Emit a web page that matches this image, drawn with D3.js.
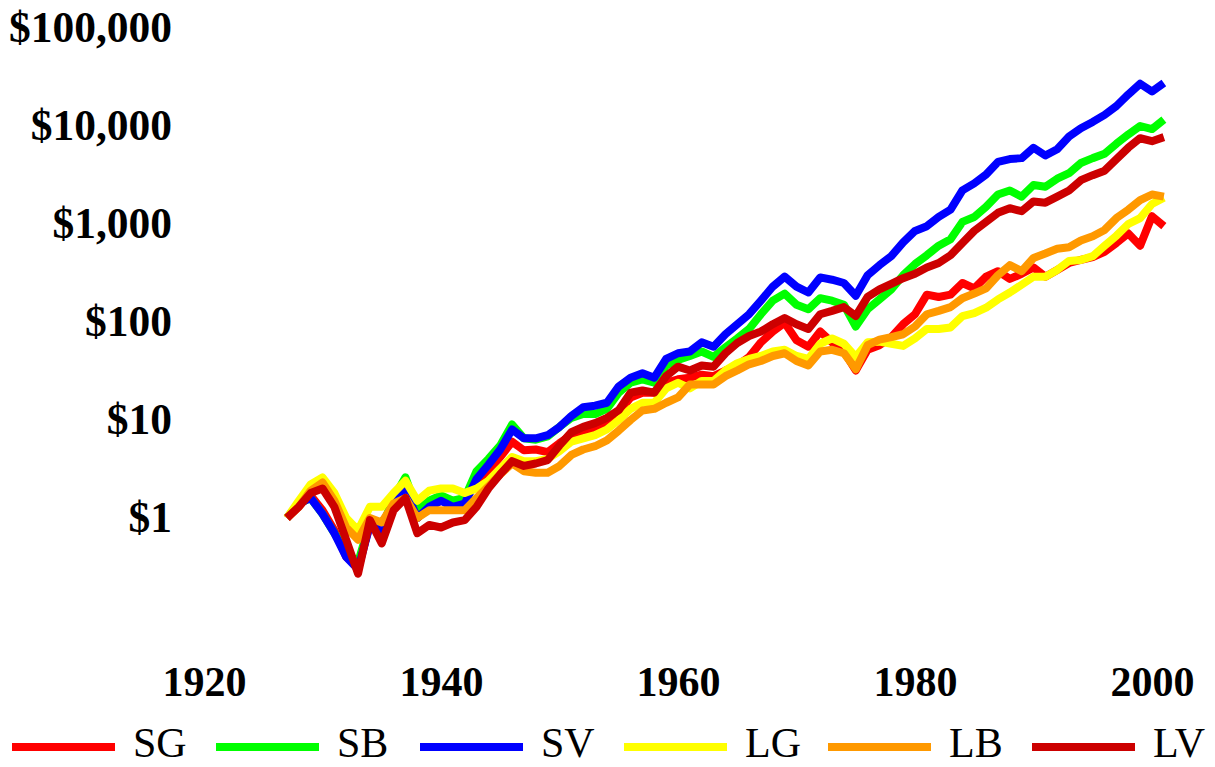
<!DOCTYPE html>
<html>
<head>
<meta charset="utf-8">
<script src="https://cdn.jsdelivr.net/npm/d3@7"></script>
<style>
  body { margin: 0; background: #fff; }
  svg { display: block; }
</style>
</head>
<body>
<div id="chart"></div>
<script>
// Size of the picture
const width = 1215;
const height = 767;

// Years sampled for every series (one point per year)
const years = d3.range(1927, 2002);

// Growth of $1
const sg = [1.0, 1.4, 1.7, 1.2, 0.75, 0.4, 0.32, 0.85, 0.7, 1.3,
    1.8, 1.0, 1.3, 1.5, 1.5, 1.5, 2.4, 3.0, 4.2, 6.0,
    4.9, 5.0, 4.7, 5.8, 7.0, 7.8, 8.2, 9.5, 12, 17,
    19, 19, 24, 26, 27, 29, 28, 32, 36, 44,
    62, 80, 98, 65, 56, 80, 62, 50, 32, 52,
    58, 70, 95, 120, 190, 180, 190, 250, 220, 290,
    330, 275, 310, 360, 290, 340, 400, 430, 460, 520,
    640, 800, 600, 1200, 950];
const sb = [1.0, 1.4, 1.6, 1.1, 0.7, 0.45, 0.35, 0.9, 0.8, 1.6,
    2.6, 1.2, 1.5, 1.7, 1.5, 1.6, 3.0, 4.0, 5.5, 9.0,
    6.5, 6.3, 6.8, 8.5, 10.5, 11.5, 11.5, 13, 19, 24,
    26, 24, 36, 41, 45, 50, 44, 55, 68, 85,
    120, 165, 195, 150, 135, 175, 165, 150, 90, 135,
    170, 215, 300, 390, 480, 600, 700, 1050, 1180, 1500,
    2000, 2200, 1900, 2500, 2400, 2900, 3300, 4200, 4700, 5200,
    6600, 8200, 10000, 9300, 11600];
const sv = [1.0, 1.4, 1.6, 1.1, 0.7, 0.4, 0.3, 0.85, 0.75, 1.4,
    1.9, 1.0, 1.3, 1.5, 1.3, 1.4, 2.5, 3.5, 5.0, 8.0,
    6.5, 6.5, 7.0, 8.5, 11, 13.5, 14, 15, 22, 27,
    30, 27, 42, 48, 50, 62, 56, 75, 95, 120,
    165, 230, 290, 230, 200, 285, 270, 250, 185, 300,
    380, 470, 650, 850, 950, 1180, 1400, 2200, 2600, 3200,
    4300, 4600, 4700, 6000, 5000, 5800, 7800, 9500, 11000, 13000,
    16000, 21000, 27000, 22500, 27500];
const lg = [1.0, 1.5, 2.2, 2.6, 1.8, 1.0, 0.75, 1.3, 1.3, 1.8,
    2.4, 1.5, 1.9, 2.0, 2.0, 1.8, 2.0, 2.4, 3.2, 4.2,
    3.8, 3.8, 4.0, 4.8, 6.0, 6.5, 7.0, 8.0, 10, 13,
    15, 15, 21, 24, 21, 25, 25, 32, 38, 42,
    45, 50, 52, 45, 42, 60, 68, 60, 44, 62,
    63, 60, 57, 68, 85, 85, 88, 115, 123, 140,
    170, 200, 240, 290, 290, 340, 420, 430, 470, 600,
    760, 1000, 1150, 1600, 1850];
const lb = [1.0, 1.3, 1.9, 2.3, 1.5, 0.8, 0.6, 1.0, 0.9, 1.4,
    1.6, 1.0, 1.2, 1.2, 1.2, 1.2, 1.6, 2.1, 2.8, 3.6,
    3.0, 2.9, 2.9, 3.4, 4.4, 5.0, 5.4, 6.2, 7.8, 10,
    12.5, 13, 15, 17, 23, 23, 23, 28, 32, 37,
    40, 45, 48, 40, 36, 50, 52, 48, 33, 58,
    66, 70, 75, 90, 120, 130, 142, 175, 195, 220,
    300, 380, 330, 450, 500, 560, 580, 680, 750, 870,
    1150, 1400, 1750, 2000, 1900];
const lv = [1.0, 1.3, 1.8, 2.0, 1.3, 0.6, 0.27, 0.95, 0.55, 1.2,
    1.6, 0.7, 0.85, 0.8, 0.9, 0.95, 1.3, 2.0, 2.8, 3.8,
    3.4, 3.6, 3.9, 5.5, 7.5, 8.5, 9.3, 10.5, 12.6, 19,
    20, 19, 28, 35, 32, 36, 35, 48, 61, 72,
    80, 95, 110, 95, 85, 120, 130, 142, 115, 180,
    215, 245, 280, 310, 360, 400, 480, 640, 850, 1050,
    1300, 1450, 1350, 1700, 1650, 1900, 2200, 2800, 3150, 3500,
    4600, 6000, 7500, 7000, 7700];

const seriesNames = ["SG", "SB", "SV", "LG", "LB", "LV"];
const seriesValues = [sg, sb, sv, lg, lb, lv];
const seriesColors = ["#ff0000", "#00ff00", "#0000ff", "#ffff00", "#ff9900", "#cc0000"];

// Axis labels
const yTicks = [1, 10, 100, 1000, 10000, 100000];
const xTicks = [1920, 1940, 1960, 1980, 2000];

const serif = "'Liberation Serif', 'Times New Roman', serif";

function main() {
    const svg = d3.select("#chart").append("svg")
        .attr("width", width)
        .attr("height", height)
        .style("background", "#fff");

    const x = d3.scaleLinear().domain([1920, 2000]).range([204, 1152]);
    const y = d3.scaleLog().domain([1, 100000]).range([518, 28]);

    // Y axis: dollar labels only
    const yAxis = svg.append("g")
        .attr("transform", "translate(180,0)")
        .call(d3.axisLeft(y)
            .tickValues(yTicks)
            .tickSize(0)
            .tickPadding(8)
            .tickFormat(d => "$" + d3.format(",")(d)));

    // X axis: year labels only
    const xAxis = svg.append("g")
        .attr("transform", "translate(0,650)")
        .call(d3.axisBottom(x)
            .tickValues(xTicks)
            .tickSize(0)
            .tickPadding(16)
            .tickFormat(d3.format("d")));

    yAxis.selectAll("text").style("font-size", "43.5px");
    xAxis.selectAll("text").style("font-size", "42px");
    [yAxis, xAxis].forEach(g => {
        g.select(".domain").remove();
        g.selectAll("text")
            .attr("fill", "#000")
            .style("font-family", serif)
            .style("font-weight", "bold");
    });

    // Series lines
    const line = d3.line()
        .x((d, i) => x(years[i]))
        .y(d => y(d));

    svg.append("g")
        .selectAll("path")
        .data(seriesValues)
        .join("path")
        .attr("d", d => line(d))
        .attr("fill", "none")
        .attr("stroke", (d, i) => seriesColors[i])
        .attr("stroke-width", 8)
        .attr("stroke-linejoin", "round");

    // Legend along the bottom
    const legend = svg.append("g")
        .selectAll("g")
        .data(seriesNames)
        .join("g")
        .attr("transform", (d, i) => `translate(${12 + i * 204},747)`);

    legend.append("line")
        .attr("x1", 0)
        .attr("x2", 103)
        .attr("stroke", (d, i) => seriesColors[i])
        .attr("stroke-width", 8);

    legend.append("text")
        .attr("x", 121)
        .attr("y", 10)
        .style("font-family", serif)
        .style("font-size", "42px")
        .text(d => d);
}

main();
</script>
</body>
</html>
